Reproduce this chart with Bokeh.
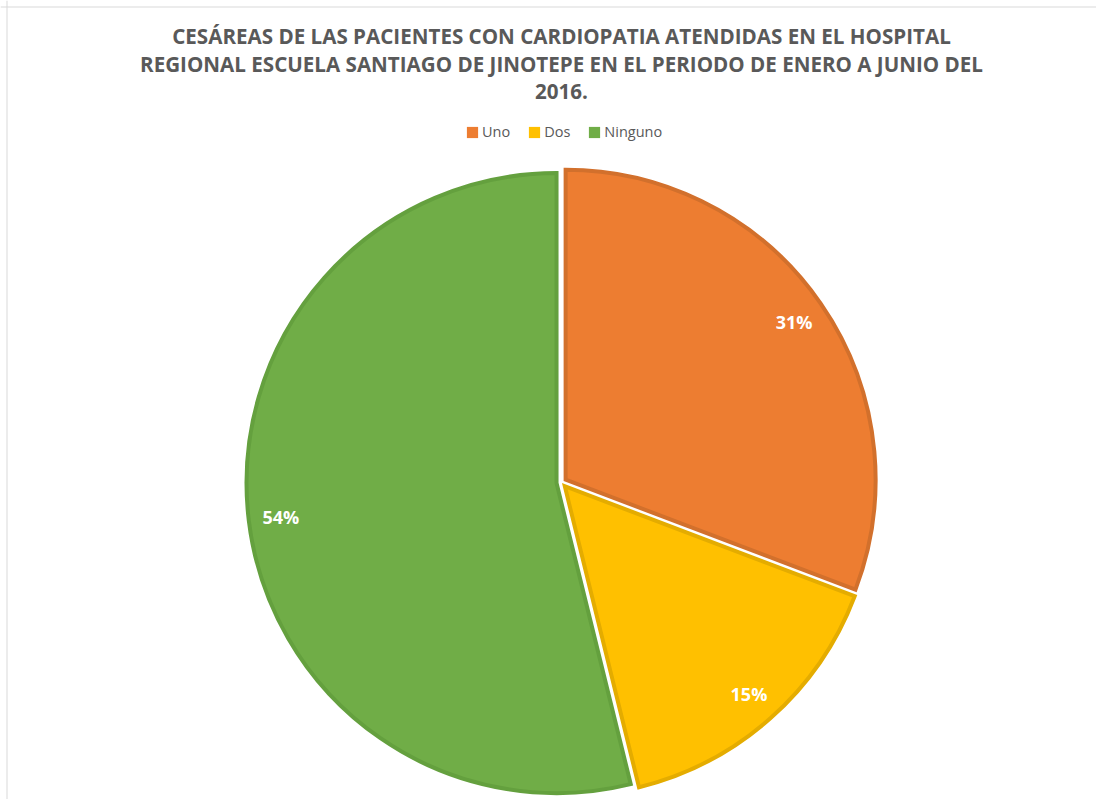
import math
from bokeh.plotting import figure
from bokeh.models import Range1d, Legend, LegendItem, ColumnDataSource, Span
from bokeh.core.properties import value
from bokeh.embed import file_html
from bokeh.resources import INLINE

# ---- data ----
categories = ["Uno", "Dos", "Ninguno"]
counts = [4, 2, 7]
fill_colors = ["#ED7D31", "#FFC000", "#70AD47"]
edge_colors = ["#D2702C", "#E4AC00", "#64A03E"]
title_lines = [
    "CESÁREAS DE LAS PACIENTES CON CARDIOPATIA ATENDIDAS EN EL HOSPITAL",
    "REGIONAL ESCUELA SANTIAGO DE JINOTEPE EN EL PERIODO DE ENERO A JUNIO DEL",
    "2016.",
]

W, H = 1096, 799
p = figure(width=W, height=H, output_backend="svg", toolbar_location=None,
           x_range=Range1d(0, W), y_range=Range1d(0, H), min_border=0,
           outline_line_color=None, background_fill_color="white")
p.axis.visible = False
p.xgrid.visible = False
p.ygrid.visible = False

# frame lines (left / top)
p.add_layout(Span(location=6.5, dimension="height", line_color="#d9d9d9", line_width=1))
p.add_layout(Span(location=H - 6.5, dimension="width", line_color="#d9d9d9", line_width=1))

# ---- pie geometry ----
cx, cy = 561, 317
R = 312
stroke = 4
explode = 5
total = sum(counts)

xs, ys, starts, ends, mids, pcts = [], [], [], [], [], []
cum = 0.0
for c in counts:
    a0 = math.pi / 2 - 2 * math.pi * (cum + c) / total
    a1 = math.pi / 2 - 2 * math.pi * cum / total
    mid = (a0 + a1) / 2
    xs.append(cx + explode * math.cos(mid))
    ys.append(cy + explode * math.sin(mid))
    starts.append(a0)
    ends.append(a1)
    mids.append(mid)
    pcts.append(f"{round(100 * c / total)}%")
    cum += c

src = ColumnDataSource(dict(x=xs, y=ys, start=starts, end=ends, fill=fill_colors,
                            edge=edge_colors, cat=categories))
# fill only (also used for the legend swatches)
r_fill = p.wedge(x="x", y="y", radius=R - stroke / 2, start_angle="start", end_angle="end",
                 fill_color="fill", line_color=None, source=src)
# darker slice border
p.wedge(x="x", y="y", radius=R - stroke / 2, start_angle="start", end_angle="end",
        fill_color=None, line_color="edge", line_width=stroke, line_join="miter",
        source=src)

# data labels
lr = 0.89 * R
lx = [xs[i] + lr * math.cos(mids[i]) for i in range(len(counts))]
ly = [ys[i] + lr * math.sin(mids[i]) for i in range(len(counts))]
p.text(x=lx, y=ly, text=pcts, text_color="white", text_font=value("Open Sans"),
       text_font_style="bold", text_font_size="18px", text_align="center",
       text_baseline="middle")

# title
ty = [H - 35, H - 63, H - 91]
p.text(x=[cx] * 3, y=ty, text=title_lines, text_color="#595959",
       text_font=value("Open Sans"), text_font_style="bold", text_font_size="20.6px",
       text_align="center", text_baseline="middle")

# legend
items = [LegendItem(label=categories[i], renderers=[r_fill], index=i) for i in range(3)]
legend = Legend(items=items, orientation="horizontal", location=(465, 658),
                glyph_width=14, glyph_height=14, label_standoff=3, spacing=17,
                padding=0, margin=0, border_line_color=None, background_fill_alpha=0,
                label_text_font="Open Sans", label_text_font_size="14.5px",
                label_text_color="#595959", label_height=18)
p.add_layout(legend)

open("out.html", "w").write(file_html(p, INLINE))
